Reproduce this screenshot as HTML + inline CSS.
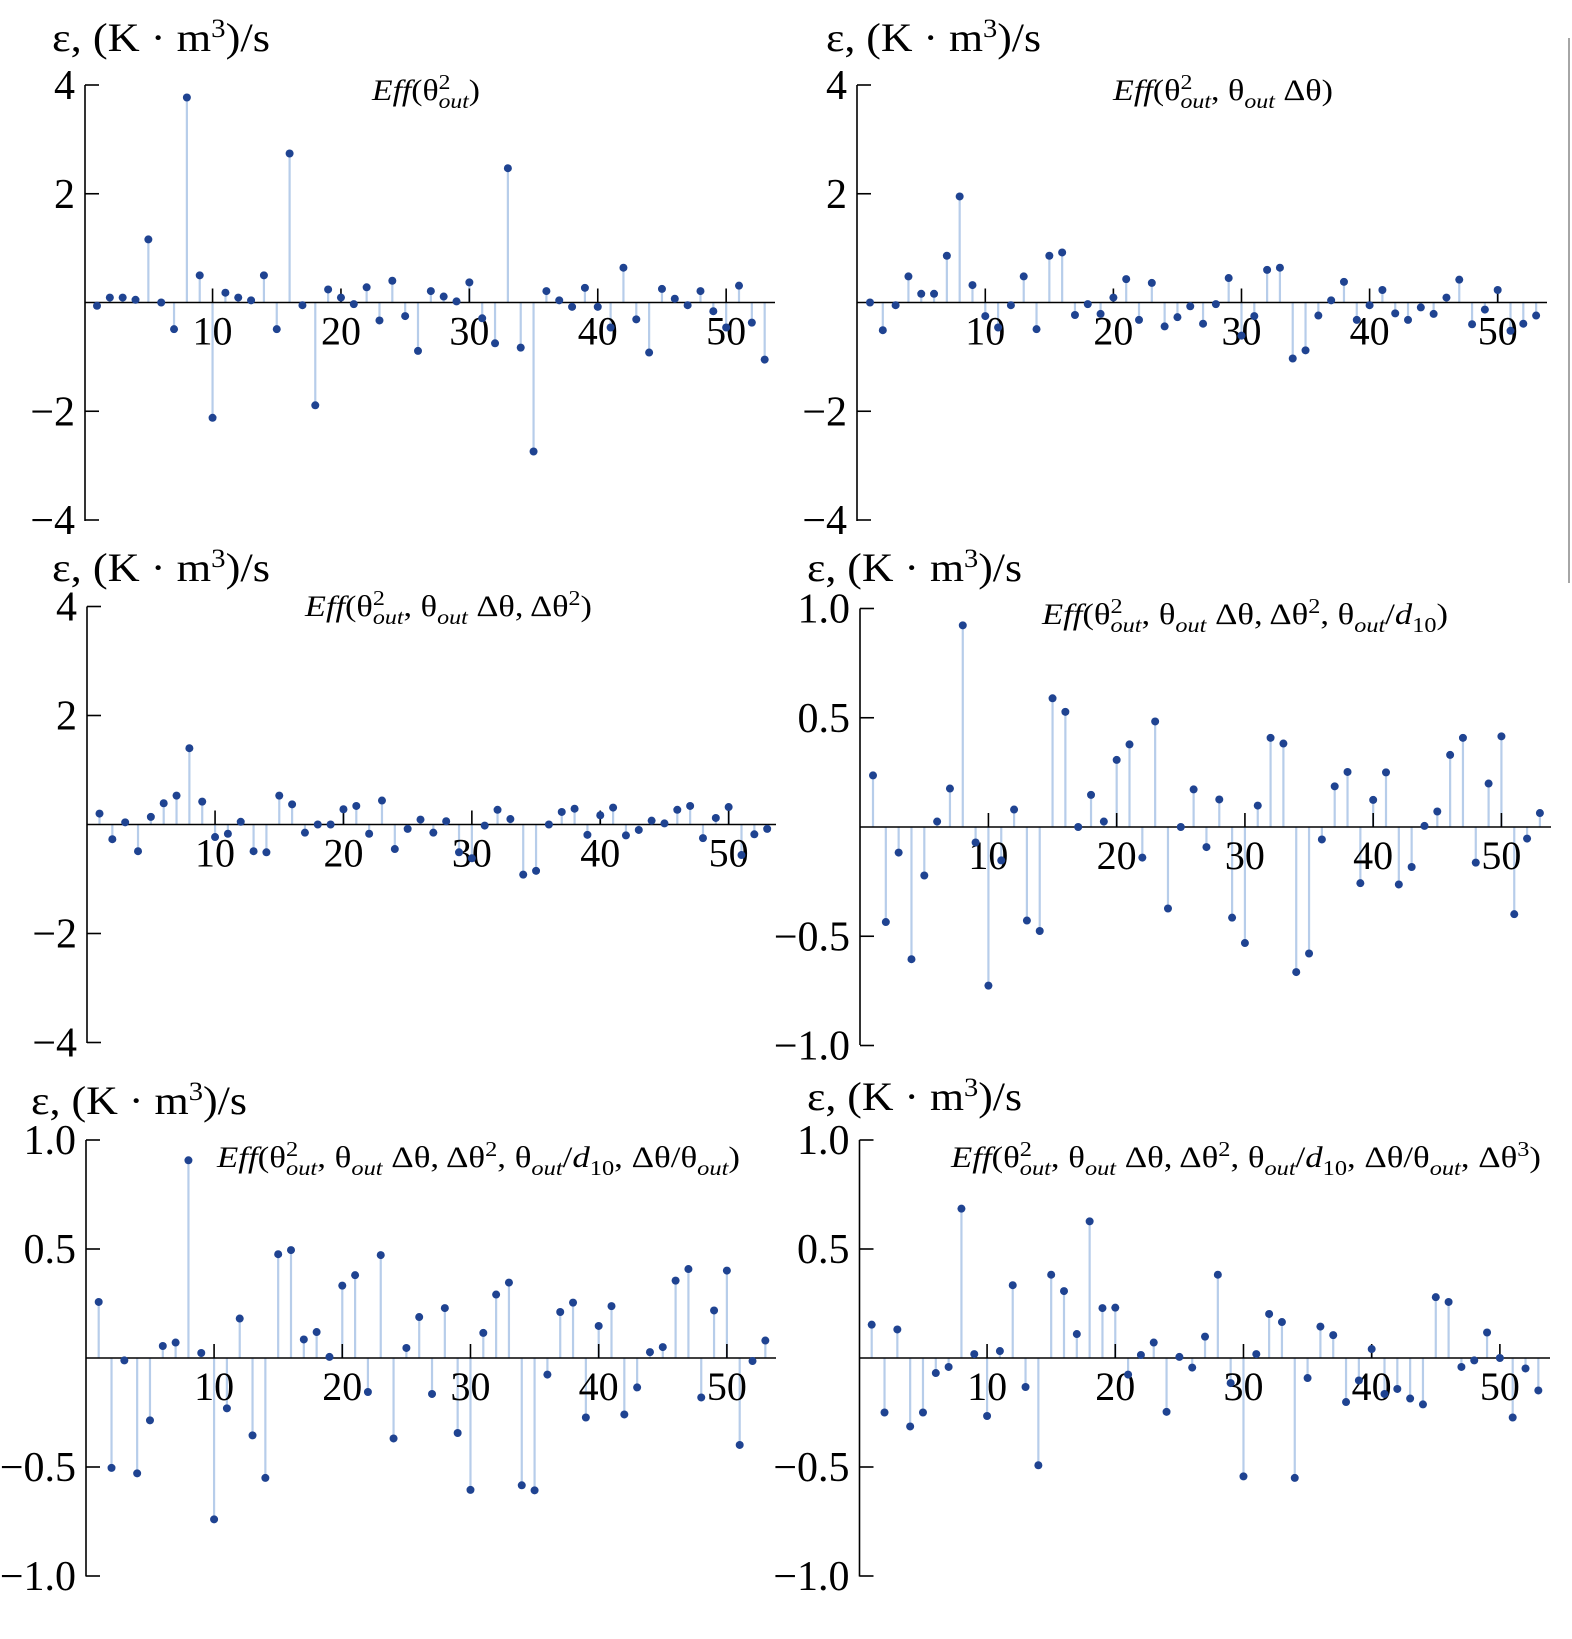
<!DOCTYPE html>
<html><head><meta charset="utf-8"><style>
html,body{margin:0;padding:0;background:#fff;}
svg{display:block;}
text{font-family:"Liberation Serif",serif;fill:#000;}
</style></head><body>
<svg id="fig" width="1572" height="1639" viewBox="0 0 1572 1639" xmlns="http://www.w3.org/2000/svg">
<line x1="1569" y1="38" x2="1569" y2="583" stroke="#888" stroke-width="1.5"/>
</svg>
<script>
const categories = Array.from({length:53},(_,i)=>i+1);
const seriesA = [-0.06,0.09,0.09,0.05,1.16,0,-0.49,3.77,0.5,-2.12,0.18,0.09,0.04,0.5,-0.49,2.74,-0.05,-1.89,0.24,0.09,-0.03,0.28,-0.33,0.40,-0.25,-0.89,0.21,0.11,0.02,0.37,-0.29,-0.75,2.47,-0.83,-2.74,0.21,0.04,-0.08,0.27,-0.08,-0.46,0.64,-0.31,-0.92,0.25,0.07,-0.05,0.21,-0.16,-0.46,0.31,-0.37,-1.05];
const seriesB = [0,-0.51,-0.05,0.48,0.16,0.16,0.86,1.95,0.32,-0.25,-0.46,-0.05,0.48,-0.49,0.86,0.92,-0.23,-0.03,-0.21,0.09,0.43,-0.32,0.36,-0.44,-0.27,-0.07,-0.39,-0.03,0.45,-0.61,-0.25,0.60,0.64,-1.03,-0.88,-0.24,0.04,0.38,-0.32,-0.05,0.23,-0.20,-0.32,-0.09,-0.21,0.09,0.42,-0.40,-0.13,0.23,-0.52,-0.39,-0.24];
const seriesC = [0.20,-0.27,0.04,-0.49,0.14,0.39,0.53,1.40,0.42,-0.23,-0.17,0.05,-0.49,-0.51,0.53,0.37,-0.15,0,0,0.28,0.34,-0.17,0.44,-0.45,-0.08,0.09,-0.15,0.06,-0.51,-0.62,-0.02,0.27,0.10,-0.92,-0.85,0,0.23,0.29,-0.19,0.17,0.31,-0.20,-0.10,0.07,0.02,0.27,0.34,-0.25,0.12,0.32,-0.56,-0.18,-0.08];
const seriesD = [0.236,-0.435,-0.117,-0.605,-0.222,0.025,0.176,0.923,-0.071,-0.726,-0.153,0.080,-0.428,-0.476,0.589,0.527,0,0.147,0.025,0.307,0.378,-0.140,0.483,-0.373,0,0.172,-0.092,0.126,-0.415,-0.531,0.098,0.408,0.382,-0.664,-0.579,-0.057,0.186,0.252,-0.257,0.124,0.250,-0.263,-0.183,0.005,0.071,0.330,0.408,-0.163,0.199,0.415,-0.399,-0.053,0.064];
const seriesE = [0.257,-0.504,-0.011,-0.529,-0.286,0.055,0.071,0.907,0.023,-0.740,-0.231,0.181,-0.355,-0.550,0.476,0.495,0.085,0.119,0.005,0.332,0.380,-0.156,0.472,-0.369,0.046,0.188,-0.165,0.229,-0.344,-0.605,0.115,0.291,0.346,-0.584,-0.607,-0.076,0.211,0.254,-0.273,0.147,0.238,-0.259,-0.135,0.027,0.050,0.355,0.408,-0.181,0.218,0.401,-0.399,-0.014,0.080];
const seriesF = [0.153,-0.250,0.131,-0.314,-0.250,-0.069,-0.041,0.685,0.018,-0.266,0.032,0.334,-0.133,-0.492,0.382,0.307,0.110,0.627,0.229,0.231,-0.076,0.014,0.071,-0.247,0.005,-0.044,0.098,0.382,-0.115,-0.543,0.018,0.202,0.165,-0.550,-0.092,0.144,0.105,-0.202,-0.103,0.041,-0.165,-0.142,-0.186,-0.213,0.279,0.257,-0.041,-0.011,0.117,0,-0.273,-0.048,-0.149];
const xTicks = [10,20,30,40,50];
const yTicksWide = [4,2,-2,-4];
const yTickLabelsWide = ["4","2","\u22122","\u22124"];
const yTicksNarrow = [1.0,0.5,-0.5,-1.0];
const yTickLabelsNarrow = ["1.0","0.5","\u22120.5","\u22121.0"];

const NS="http://www.w3.org/2000/svg";
const svg=document.getElementById('fig');
function mk(tag,attrs,parent){const e=document.createElementNS(NS,tag);for(const k in attrs)e.setAttribute(k,attrs[k]);(parent||svg).appendChild(e);return e;}

const panels=[
 {name:'panel-1',data:seriesA,ax:85,x1:97,dx:12.84,xend:775,yTop:85,y0:302.5,yBot:521,ymax:4,ticks:yTicksWide,labels:yTickLabelsWide,
  ylab:{x:52,y:51,w:218},title:{x:372,y:100,w:108,key:1}},
 {name:'panel-2',data:seriesB,ax:857,x1:870,dx:12.81,xend:1547,yTop:85,y0:302.5,yBot:521,ymax:4,ticks:yTicksWide,labels:yTickLabelsWide,
  ylab:{x:826,y:51,w:215},title:{x:1113,y:100,w:220,key:2}},
 {name:'panel-3',data:seriesC,ax:87,x1:99.5,dx:12.84,xend:776,yTop:606.5,y0:824.5,yBot:1043,ymax:4,ticks:yTicksWide,labels:yTickLabelsWide,
  ylab:{x:52,y:581,w:218},title:{x:305,y:616,w:287,key:3}},
 {name:'panel-4',data:seriesD,ax:860,x1:873,dx:12.825,xend:1551,yTop:608.5,y0:827,yBot:1045,ymax:1,ticks:yTicksNarrow,labels:yTickLabelsNarrow,
  ylab:{x:807,y:581,w:215},title:{x:1042,y:624,w:406,key:4}},
 {name:'panel-5',data:seriesE,ax:86,x1:98.7,dx:12.82,xend:776,yTop:1140,y0:1358,yBot:1576.5,ymax:1,ticks:yTicksNarrow,labels:yTickLabelsNarrow,
  ylab:{x:31,y:1114,w:216},title:{x:217,y:1167,w:523,key:5}},
 {name:'panel-6',data:seriesF,ax:859.5,x1:871.7,dx:12.82,xend:1550,yTop:1140,y0:1358,yBot:1576.5,ymax:1,ticks:yTicksNarrow,labels:yTickLabelsNarrow,
  ylab:{x:807,y:1110,w:215},title:{x:951,y:1167,w:590,key:6}}
];

function titleParts(key){
 const p=[['Eff','i'],['(θ','n'],['2','sup'],['out','subk']];
 if(key>=2){p.push([', θ','n'],['out','sub'],[' Δθ','n']);}
 if(key>=3){p.push([', Δθ','n'],['2','sup']);}
 if(key>=4){p.push([', θ','n'],['out','sub'],['/','n'],['d','i'],['10','subn']);}
 if(key>=5){p.push([', Δθ/θ','n'],['out','sub']);}
 if(key>=6){p.push([', Δθ','n'],['3','sup']);}
 p.push([')','n']);
 return p;
}

panels.forEach(P=>{
 const g=mk('g',{});
 
 
 const sy=v=>P.y0-(v/P.ymax)*(P.y0-P.yTop);
 const sx=i=>P.x1+(i-1)*P.dx;
 const yl=mk('text',{x:P.ylab.x,y:P.ylab.y,'font-size':40,textLength:P.ylab.w,lengthAdjust:'spacingAndGlyphs'},g);
 
 
 yl.appendChild(document.createTextNode('ε, (K · m'));
 const s3=mk('tspan',{dy:-14,'font-size':26},yl);s3.textContent='3';
 const s4=mk('tspan',{dy:14,'font-size':40},yl);s4.textContent=')/s';
 const t=mk('text',{x:P.title.x,y:P.title.y,'font-size':30,textLength:P.title.w,lengthAdjust:'spacingAndGlyphs'},g);
 
 
 let cur=0;
 titleParts(P.title.key).forEach(([s,st])=>{
  let dy=0,fs=30,fi='normal',dxv=0;
  if(st==='i'){fi='italic';}
  if(st==='sup'){dy=-11;fs=21;}
  if(st==='sub'||st==='subn'||st==='subk'){dy=8;fs=21;fi=st==='subn'?'normal':'italic';}
  if(st==='subk'){dxv=-10.5;}
  const ts=mk('tspan',{dy:dy-cur,dx:dxv,'font-size':fs,'font-style':fi},t);
  ts.textContent=s;cur=dy;
 });
 P.data.forEach((v,i)=>{
  const x=sx(categories[i]);
  const st=mk('line',{x1:x,y1:P.y0,x2:x,y2:sy(v),stroke:'#b7cdea','stroke-width':2.2},g);
  
  
 });
 const xa=mk('line',{x1:P.ax,y1:P.y0,x2:P.xend,y2:P.y0,stroke:'#000','stroke-width':1.6},g);
 
 
 const ya=mk('line',{x1:P.ax,y1:P.yTop,x2:P.ax,y2:P.yBot,stroke:'#000','stroke-width':1.6},g);
 
 
 xTicks.forEach(tv=>{
  const x=sx(tv);
  const tk=mk('line',{x1:x,y1:P.y0,x2:x,y2:P.y0-14,stroke:'#000','stroke-width':1.6},g);
  
  
  const tl=mk('text',{x:x,y:P.y0+42,'font-size':40,'text-anchor':'middle'},g);
  
  
  tl.textContent=String(tv);
 });
 P.ticks.forEach((tv,k)=>{
  const y=sy(tv);
  const tk=mk('line',{x1:P.ax,y1:y,x2:P.ax+14,y2:y,stroke:'#000','stroke-width':1.6},g);
  
  
  const tl=mk('text',{x:P.ax-10,y:y+14,'font-size':42,'text-anchor':'end'},g);
  
  
  tl.textContent=P.labels[k];
 });
 P.data.forEach((v,i)=>{
  const c=mk('circle',{cx:sx(categories[i]),cy:sy(v),r:4,fill:'#1f4391'},g);
  
  
 });
});
</script>
</body></html>
